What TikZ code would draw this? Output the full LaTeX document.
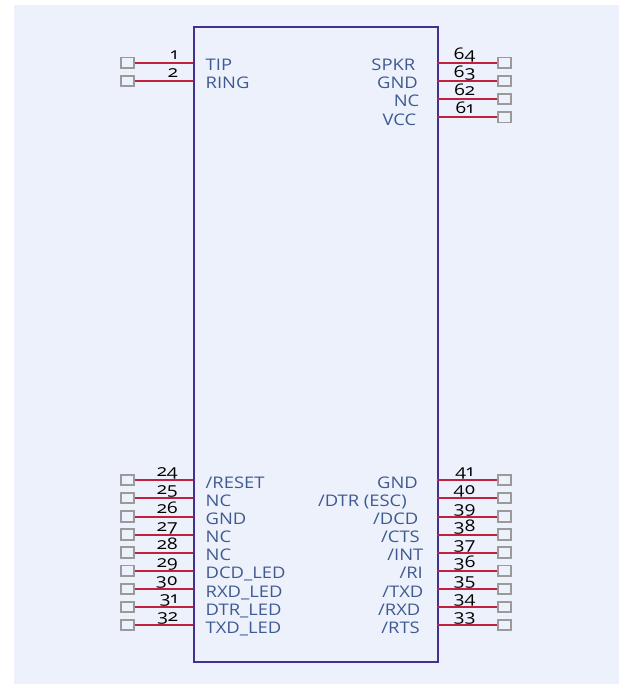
\documentclass[tikz,border=0pt]{standalone}
\usepackage{fontspec}
\setmainfont[Numbers=OldStyle,FakeStretch=1.15]{Open Sans}
\newfontfamily\numfont[Numbers=OldStyle,FakeStretch=1.2]{Open Sans}
\definecolor{bgc}{HTML}{EDF1FB}
\definecolor{bodyc}{HTML}{44308F}
\definecolor{pinc}{HTML}{C2203F}
\definecolor{padc}{HTML}{9A9A9A}
\definecolor{labc}{HTML}{3F5A92}
\tikzset{
  body/.style={draw=bodyc,line width=2pt,inner sep=0pt},
  pad/.style={draw=padc,line width=1.8pt,fill=bgc,minimum width=13pt,minimum height=10.5pt,inner sep=0pt},
  pin/.style={draw=pinc,line width=2pt},
  lab/.style={text=labc,font=\fontsize{16}{18}\selectfont,inner sep=0pt},
  num/.style={text=black,font=\numfont\fontsize{16}{18}\selectfont,inner sep=0pt},
}
\newcommand{\lpin}[4]{% y, number, name, id
  \node[pad] (pl#4) at (127.3,-#1) {};
  \coordinate (cl#4) at (193.2,-#1);
  \draw[pin] (pl#4.east) -- (cl#4);
  \node[num,anchor=base east] (nl#4) at (178,-#1+3.2) {#2};
  \node[lab,anchor=base west] (tl#4) at (205.5,-#1-8) {#3};
}
\newcommand{\rpin}[5]{% y, number, name, id, right end of the name
  \node[pad] (pr#4) at (504.5,-#1) {};
  \coordinate (cr#4) at (437.2,-#1);
  \draw[pin] (cr#4) -- (pr#4.west);
  \node[num,anchor=base] (nr#4) at (464.5,-#1+3.2) {#2};
  \node[lab,anchor=base east] (tr#4) at (#5,-#1-8) {#3};
}
\begin{document}
\begin{tikzpicture}[x=1pt,y=1pt]
\useasboundingbox (0,0) rectangle (621,-684);
\fill[bgc] (14,-5) rectangle (619,-684);
\node[body,minimum width=244pt,minimum height=634.5pt,anchor=north west] (ic) at (193.2,-26.3) {};
\lpin{62.7}{1}{TIP}{a}
\lpin{81}{2}{RING}{b}
\rpin{62.7}{64}{SPKR}{a}{415.5}
\rpin{81}{63}{GND}{b}{418}
\rpin{99}{62}{NC}{c}{419.5}
\rpin{117.2}{61}{VCC}{d}{416.5}
\lpin{480}{24}{/RESET}{c}
\lpin{498}{25}{NC}{d}
\lpin{516.5}{26}{GND}{e}
\lpin{534.5}{27}{NC}{f}
\lpin{552.5}{28}{NC}{g}
\lpin{570.7}{29}{DCD\_LED}{h}
\lpin{589}{30}{RXD\_LED}{i}
\lpin{607}{31}{DTR\_LED}{j}
\lpin{625}{32}{TXD\_LED}{k}
\rpin{480}{41}{GND}{e}{418}
\rpin{498}{40}{/DTR (ESC)}{f}{407}
\rpin{516.5}{39}{/DCD}{g}{418.5}
\rpin{534.5}{38}{/CTS}{h}{420}
\rpin{552.5}{37}{/INT}{i}{423.5}
\rpin{570.7}{36}{/RI}{j}{423}
\rpin{589}{35}{/TXD}{k}{423.5}
\rpin{607}{34}{/RXD}{l}{420.5}
\rpin{625}{33}{/RTS}{m}{420}
\end{tikzpicture}
\end{document}
